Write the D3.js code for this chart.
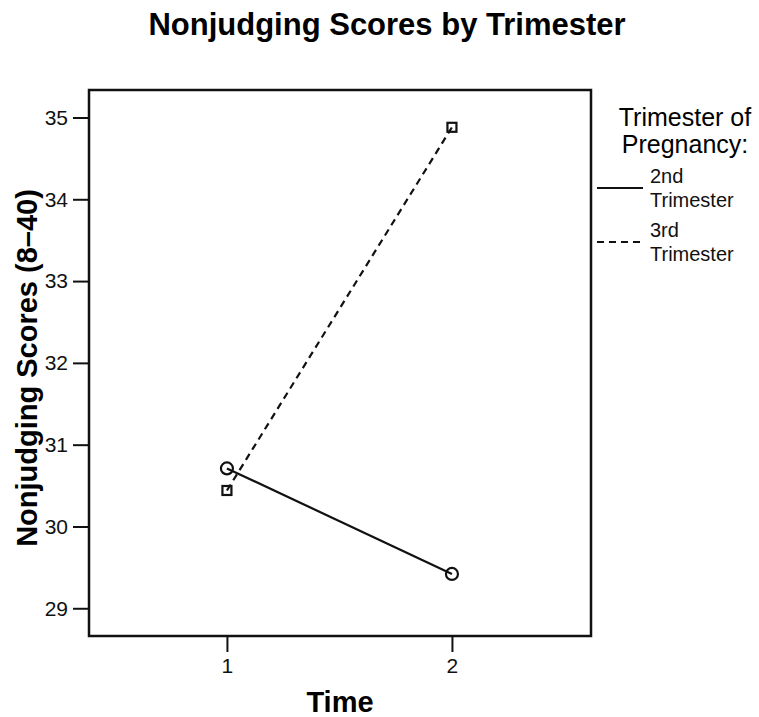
<!DOCTYPE html>
<html lang="en">
<head>
    <meta charset="UTF-8">
    <title>Nonjudging Scores by Trimester</title>
    <style>
        body { margin: 0; background: #fff; }
        svg { display: block; font-family: "Liberation Sans", Arial, sans-serif; }
        .tick line { stroke: #111; stroke-width: 2px; }
        .tick text { font-size: 21px; font-family: "Liberation Sans", Arial, sans-serif; fill: #111; }
    </style>
</head>
<body>

<svg class="chart"></svg>

<script src="https://cdn.jsdelivr.net/npm/d3@7"></script>

<script>

    var times = [1, 2];
    var timeLabels = ["1", "2"];
    var yTicks = [29, 30, 31, 32, 33, 34, 35];
    var secondTrimester = [30.71, 29.42];
    var thirdTrimester = [30.44, 34.88];
    var seriesNames = ["2nd Trimester", "3rd Trimester"];

    var width = 759, height = 717;
    var plotLeft = 89, plotRight = 591, plotTop = 90, plotBottom = 636;

    var svg = d3.select(".chart")
            .attr("width", width)
            .attr("height", height);

    var x = d3.scaleLinear()
            .domain([0.387, 2.618])
            .range([plotLeft, plotRight]);

    var y = d3.scaleLinear()
            .domain([28.661, 35.336])
            .range([plotBottom, plotTop]);

    // axes first, the frame is drawn over them
    var yAxis = svg.append("g")
            .attr("transform", "translate(" + plotLeft + ",0)")
            .call(d3.axisLeft(y).tickValues(yTicks).tickFormat(d3.format("d"))
                .tickSizeInner(16).tickSizeOuter(0).tickPadding(5));
    yAxis.select(".domain").remove();

    var xAxis = svg.append("g")
            .attr("transform", "translate(0," + plotBottom + ")")
            .call(d3.axisBottom(x).tickValues(times)
                .tickFormat(function (d, i) { return timeLabels[i]; })
                .tickSizeInner(16).tickSizeOuter(0).tickPadding(6));
    xAxis.select(".domain").remove();

    svg.append("rect")
            .attr("x", plotLeft)
            .attr("y", plotTop)
            .attr("width", plotRight - plotLeft)
            .attr("height", plotBottom - plotTop)
            .attr("fill", "none")
            .attr("stroke", "#111")
            .attr("stroke-width", 2.5);

    var line = d3.line()
            .x(function (d, i) { return x(times[i]); })
            .y(function (d) { return y(d); });

    svg.append("path")
            .datum(thirdTrimester)
            .attr("d", line)
            .attr("fill", "none")
            .attr("stroke", "#111")
            .attr("stroke-width", 2.2)
            .attr("stroke-dasharray", "7,5");

    svg.append("path")
            .datum(secondTrimester)
            .attr("d", line)
            .attr("fill", "none")
            .attr("stroke", "#111")
            .attr("stroke-width", 2.2);

    svg.selectAll(".circ")
            .data(secondTrimester)
            .enter().append("circle")
            .attr("class", "circ")
            .attr("cx", function (d, i) { return x(times[i]); })
            .attr("cy", function (d) { return y(d); })
            .attr("r", 6)
            .attr("fill", "none")
            .attr("stroke", "#111")
            .attr("stroke-width", 2.2);

    svg.selectAll(".sq")
            .data(thirdTrimester)
            .enter().append("rect")
            .attr("class", "sq")
            .attr("x", function (d, i) { return x(times[i]) - 4.5; })
            .attr("y", function (d) { return y(d) - 4.5; })
            .attr("width", 9)
            .attr("height", 9)
            .attr("fill", "none")
            .attr("stroke", "#111")
            .attr("stroke-width", 2.2);

    // titles
    svg.append("text")
            .attr("x", 387)
            .attr("y", 35)
            .attr("text-anchor", "middle")
            .attr("font-weight", "bold")
            .attr("font-size", 31)
            .text("Nonjudging Scores by Trimester");

    svg.append("text")
            .attr("transform", "translate(37,368) rotate(-90)")
            .attr("text-anchor", "middle")
            .attr("font-weight", "bold")
            .attr("font-size", 29)
            .text("Nonjudging Scores (8\u201340)");

    svg.append("text")
            .attr("x", (plotLeft + plotRight) / 2)
            .attr("y", 712)
            .attr("text-anchor", "middle")
            .attr("font-weight", "bold")
            .attr("font-size", 29)
            .text("Time");

    // legend
    var legend = svg.append("g");
    legend.append("text")
            .attr("x", 685).attr("y", 126)
            .attr("text-anchor", "middle")
            .attr("font-size", 25)
            .text("Trimester of");
    legend.append("text")
            .attr("x", 685).attr("y", 153)
            .attr("text-anchor", "middle")
            .attr("font-size", 25)
            .text("Pregnancy:");

    var entry = legend.selectAll(".entry")
            .data(seriesNames)
            .enter().append("g")
            .attr("class", "entry")
            .attr("transform", function (d, i) { return "translate(0," + (i * 54) + ")"; });

    entry.append("line")
            .attr("x1", 597).attr("x2", 643)
            .attr("y1", 188).attr("y2", 188)
            .attr("stroke", "#111")
            .attr("stroke-width", 2.2)
            .attr("stroke-dasharray", function (d, i) { return i ? "7,5" : null; });

    entry.append("text")
            .attr("x", 650)
            .attr("font-size", 20)
            .attr("fill", "#111")
            .selectAll("tspan")
            .data(function (d) { return d.split(" "); })
            .enter().append("tspan")
            .attr("x", 650)
            .attr("y", function (d, i) { return 183 + i * 24; })
            .text(function (d) { return d; });

</script>

</body>
</html>
